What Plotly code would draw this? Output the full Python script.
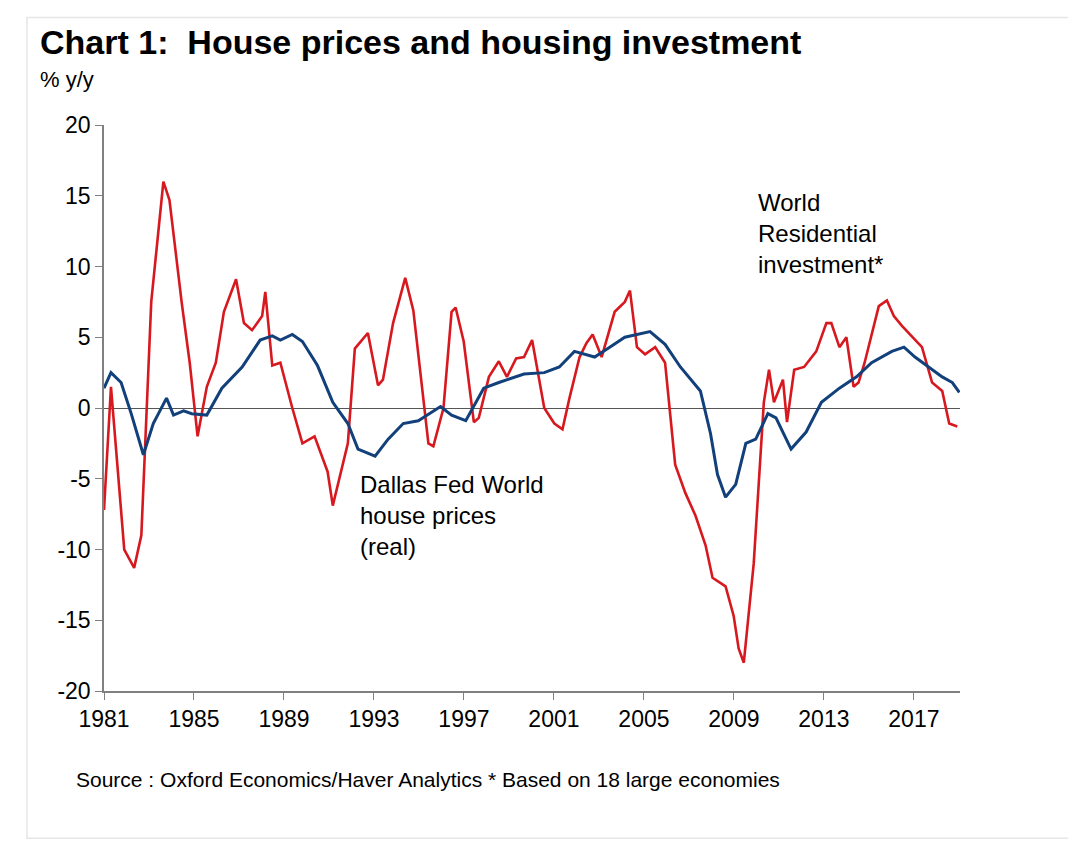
import plotly.graph_objects as go

# World residential investment (% y/y)
red_x = [1981.0, 1981.31, 1981.9, 1982.34, 1982.66, 1983.1, 1983.64, 1983.91, 1984.45, 1984.81,
         1985.16, 1985.57, 1985.97, 1986.33, 1986.87, 1987.22, 1987.58, 1988.03, 1988.17, 1988.48,
         1988.84, 1989.37, 1989.82, 1990.36, 1990.94, 1991.17, 1991.84, 1992.15, 1992.73, 1993.18,
         1993.4, 1993.85, 1994.39, 1994.75, 1995.42, 1995.64, 1996.09, 1996.45, 1996.63, 1996.99,
         1997.44, 1997.66, 1998.11, 1998.55, 1998.91, 1999.32, 1999.67, 2000.03, 2000.57, 2001.02,
         2001.38, 2001.69, 2002.14, 2002.45, 2002.72, 2003.12, 2003.7, 2004.15, 2004.38, 2004.69,
         2005.05, 2005.5, 2005.94, 2006.39, 2006.84, 2007.29, 2007.74, 2008.05, 2008.63, 2008.99,
         2009.21, 2009.44, 2009.88, 2010.33, 2010.56, 2010.78, 2011.18, 2011.36, 2011.68, 2012.12,
         2012.66, 2013.11, 2013.33, 2013.69, 2014.0, 2014.32, 2014.54, 2014.81, 2015.44, 2015.8,
         2016.11, 2016.47, 2017.36, 2017.81, 2018.26, 2018.57, 2018.93]
red_y = [-7.2, 1.5, -10.0, -11.3, -9.0, 7.5, 16.0, 14.7, 7.5, 3.2,
         -2.0, 1.5, 3.2, 6.8, 9.1, 6.0, 5.5, 6.5, 8.2, 3.0,
         3.2, 0.0, -2.5, -2.0, -4.5, -6.9, -2.5, 4.2, 5.3, 1.6,
         2.0, 6.0, 9.2, 6.9, -2.5, -2.7, 0.0, 6.8, 7.1, 4.7,
         -1.0, -0.7, 2.2, 3.3, 2.2, 3.5, 3.6, 4.8, 0.0, -1.1,
         -1.5, 0.7, 3.6, 4.6, 5.2, 3.6, 6.8, 7.5, 8.3, 4.3,
         3.8, 4.3, 3.2, -4.0, -6.0, -7.6, -9.7, -12.0, -12.6, -14.7,
         -17.0, -18.0, -11.0, 0.4, 2.7, 0.4, 2.0, -1.0, 2.7, 2.9,
         4.0, 6.0, 6.0, 4.3, 5.0, 1.5, 1.8, 3.2, 7.2, 7.6,
         6.5, 5.8, 4.3, 1.8, 1.2, -1.1, -1.3]

# Dallas Fed world house prices, real (% y/y)
blue_x = [1981.0, 1981.31, 1981.76, 1982.21, 1982.75, 1983.19, 1983.78, 1984.09, 1984.54, 1984.9,
          1985.57, 1986.24, 1987.14, 1987.94, 1988.48, 1988.84, 1989.37, 1989.82, 1990.49, 1991.17,
          1991.84, 1992.29, 1993.05, 1993.63, 1994.3, 1994.97, 1995.96, 1996.45, 1997.08, 1997.88,
          1998.55, 1999.67, 2000.57, 2001.24, 2001.91, 2002.81, 2003.48, 2004.15, 2005.27, 2005.94,
          2006.62, 2007.51, 2007.96, 2008.27, 2008.63, 2009.08, 2009.53, 2009.97, 2010.51, 2010.87,
          2011.54, 2012.21, 2012.89, 2013.69, 2014.45, 2015.12, 2016.02, 2016.56, 2017.05, 2017.59,
          2018.26, 2018.71, 2019.02]
blue_y = [1.4, 2.5, 1.8, -0.4, -3.3, -1.1, 0.7, -0.5, -0.2, -0.4,
          -0.5, 1.4, 2.9, 4.8, 5.1, 4.8, 5.2, 4.7, 3.0, 0.4,
          -1.1, -2.9, -3.4, -2.2, -1.1, -0.9, 0.1, -0.5, -0.9, 1.4,
          1.8, 2.4, 2.5, 2.9, 4.0, 3.6, 4.3, 5.0, 5.4, 4.5,
          2.9, 1.2, -1.8, -4.7, -6.3, -5.4, -2.5, -2.2, -0.4, -0.7,
          -2.9, -1.7, 0.4, 1.4, 2.2, 3.2, 4.0, 4.3, 3.6, 3.0,
          2.2, 1.8, 1.1]

year_ticks = [1981, 1985, 1989, 1993, 1997, 2001, 2005, 2009, 2013, 2017]
y_ticks = [-20, -15, -10, -5, 0, 5, 10, 15, 20]
y_labels = [str(v) for v in y_ticks]

font = "Liberation Sans, Arial, sans-serif"

fig = go.Figure()
fig.add_trace(go.Scatter(x=red_x, y=red_y, mode="lines",
                         line=dict(color="#d7191f", width=2.6), name="World Residential investment*"))
fig.add_trace(go.Scatter(x=blue_x, y=blue_y, mode="lines",
                         line=dict(color="#12407a", width=3), name="Dallas Fed World house prices (real)"))

fig.update_layout(
    width=1076, height=850,
    margin=dict(l=96, r=124, t=117, b=167),
    paper_bgcolor="white", plot_bgcolor="white",
    showlegend=False,
    font=dict(family=font, size=23, color="black"),
    xaxis=dict(range=[1981, 2019.05], tickvals=year_ticks, showgrid=False, zeroline=False,
               showline=True, linecolor="#808080", linewidth=1.5,
               ticks="outside", ticklen=7, tickcolor="#808080",
               tickfont=dict(size=23)),
    yaxis=dict(range=[-20, 20], tickvals=y_ticks, ticktext=y_labels, showgrid=False,
               zeroline=True, zerolinecolor="#555555", zerolinewidth=1.3,
               showline=True, linecolor="#808080", linewidth=1.5,
               ticks="outside", ticklen=7, tickcolor="#808080",
               tickfont=dict(size=23)),
    shapes=[dict(type="rect", xref="paper", yref="paper",
                 x0=-0.09, x1=1.13, y0=-0.26, y1=1.19,
                 line=dict(color="#e6e6e6", width=1.5))],
    annotations=[
        dict(text="<b>Chart 1:  House prices and housing investment</b>", xref="paper", yref="paper",
             x=-0.077, y=1.11, xanchor="left", yanchor="bottom", showarrow=False,
             font=dict(size=34)),
        dict(text="% y/y", xref="paper", yref="paper", x=-0.077, y=1.055,
             xanchor="left", yanchor="bottom", showarrow=False, font=dict(size=22)),
        dict(text="Dallas Fed World<br>house prices<br>(real)", x=1992.3, y=-4.3,
             xanchor="left", yanchor="top", align="left", showarrow=False, font=dict(size=24)),
        dict(text="World<br>Residential<br>investment*", x=2010.0, y=15.6,
             xanchor="left", yanchor="top", align="left", showarrow=False, font=dict(size=24)),
        dict(text="Source : Oxford Economics/Haver Analytics * Based on 18 large economies",
             xref="paper", yref="paper", x=-0.035, y=-0.18, xanchor="left", yanchor="bottom",
             showarrow=False, font=dict(size=21)),
    ],
)

fig.write_html("out.html")
